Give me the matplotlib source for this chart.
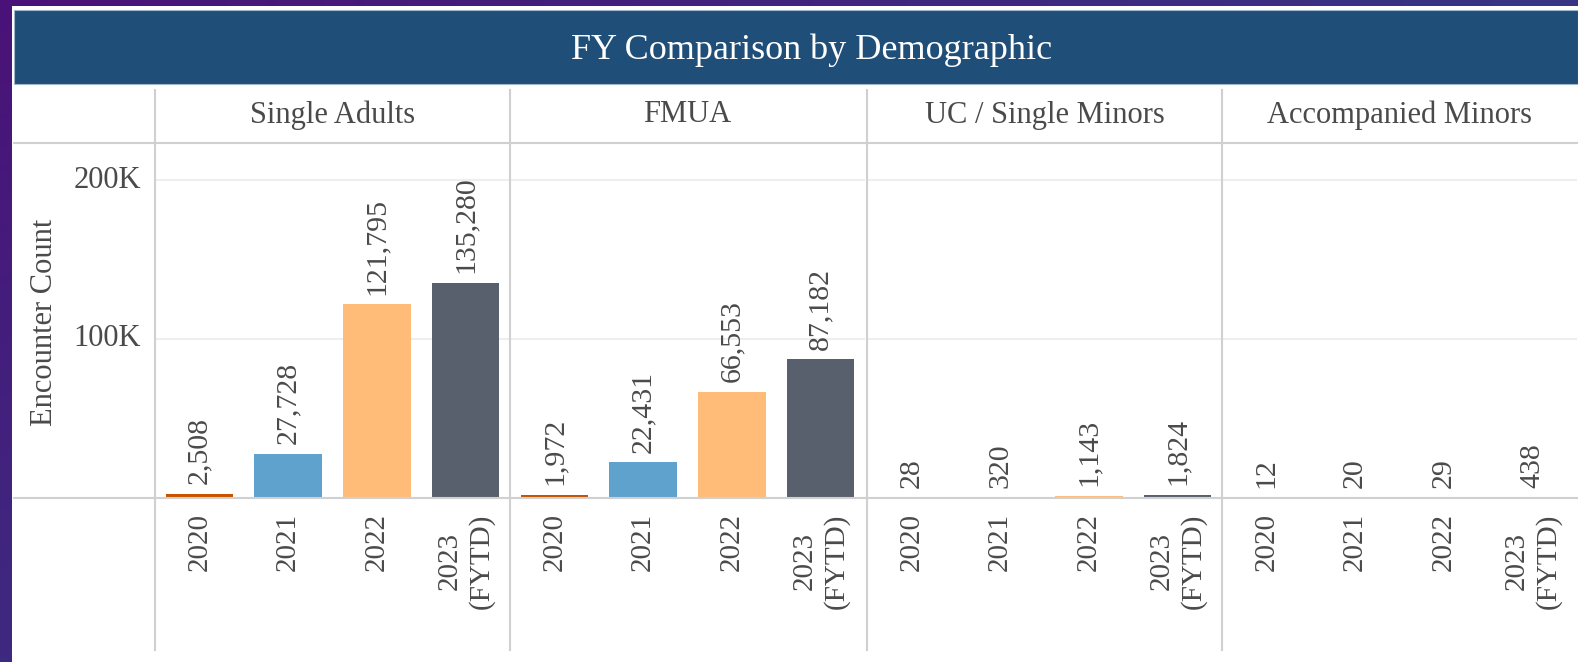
import numpy as np
import matplotlib
matplotlib.use("Agg")
import matplotlib.pyplot as plt
from matplotlib.lines import Line2D
from matplotlib.patches import Rectangle
from matplotlib.transforms import offset_copy

# ---------------- data ----------------
groups = ["Single Adults", "FMUA", "UC / Single Minors", "Accompanied Minors"]
years = ["2020", "2021", "2022", "2023\n(FYTD)"]
single_adults = [2508, 27728, 121795, 135280]
fmua = [1972, 22431, 66553, 87182]
uc_single_minors = [28, 320, 1143, 1824]
accompanied_minors = [12, 20, 29, 438]
series = [single_adults, fmua, uc_single_minors, accompanied_minors]
year_colors = ["#c85200", "#5fa2ce", "#ffbc79", "#57606c"]
yticks = [0, 100000, 200000]
ytick_labels = ["", "100K", "200K"]
title = "FY Comparison by Demographic"
ylabel = "Encounter Count"

W, H = 1578, 662
plt.rcParams['font.family'] = ['Liberation Serif', 'DejaVu Serif']
fig = plt.figure(figsize=(W / 100, H / 100), dpi=100)
fig.patch.set_facecolor("#4a1478")

def fx(x):
    return x / W

def fy(y):
    return 1 - y / H

# background gradient (purple -> blue)
bg = fig.add_axes([0, 0, 1, 1], zorder=-10)
gx = np.linspace(0, 1, 200)
gy = np.linspace(0, 1, 100)
GX, GY = np.meshgrid(gx, gy)
t = np.clip(0.6 * GX + 0.4 * GY, 0, 1)
c0 = np.array([0x4a, 0x12, 0x78]) / 255
c1 = np.array([0x2c, 0x4c, 0x8c]) / 255
img = c0[None, None, :] * (1 - t[..., None]) + c1[None, None, :] * t[..., None]
bg.imshow(img, extent=[0, 1, 0, 1], aspect="auto", origin="upper")
bg.set_xlim(0, 1)
bg.set_ylim(0, 1)
bg.axis("off")

# white chart area
fig.patches.append(Rectangle((fx(12), 0), 1 - fx(12), fy(6), transform=fig.transFigure,
                             facecolor="white", edgecolor="none", zorder=-5))
# title bar
fig.patches.append(Rectangle((fx(14), fy(84)), 1 - fx(14), fy(10) - fy(84), transform=fig.transFigure,
                             facecolor="#1f4e79", edgecolor="#9fb6cc", linewidth=0.8, zorder=-4))
fig.text(fx(812), fy(50), title, color="white", fontsize=26, ha="center", va="center")

text_color = "#4a4a4a"
line_color = "#d0d0d0"

# structure lines
fig.add_artist(Line2D([fx(14), 1], [fy(143), fy(143)], color=line_color, lw=1.5, transform=fig.transFigure))
fig.add_artist(Line2D([fx(14), 1], [fy(498), fy(498)], color=line_color, lw=1.5, transform=fig.transFigure, zorder=5))
for xv in [155, 510, 867, 1222]:
    fig.add_artist(Line2D([fx(xv), fx(xv)], [fy(650), fy(90)], color=line_color, lw=1.5, transform=fig.transFigure))

ymax = (498 - 143) / 159 * 100000
panel_lefts = [155, 510, 867, 1222]
pw = 355
for i, (g, vals) in enumerate(zip(groups, series)):
    ax = fig.add_axes([fx(panel_lefts[i]), fy(498), fx(pw), fy(143) - fy(498)])
    ax.set_facecolor("none")
    x = np.arange(len(years))
    ax.bar(x, vals, width=0.76, color=year_colors, zorder=3)
    ax.set_xlim(-0.5, 3.5)
    ax.set_ylim(0, ymax)
    for s in ax.spines.values():
        s.set_visible(False)
    ax.set_yticks(yticks)
    ax.yaxis.grid(True, color="#eeeeee", lw=1.5, zorder=0)
    ax.tick_params(axis="y", length=0, labelleft=False)
    ax.set_xticks(x)
    ax.set_xticklabels(years, rotation=90, fontsize=21, color=text_color, linespacing=1.25)
    ax.tick_params(axis="x", length=0, pad=11)
    for xi, v in zip(x, vals):
        ax.annotate(f"{v:,}", (xi, v), xytext=(0, 7), textcoords="offset points",
                    rotation=90, ha="center", va="bottom", fontsize=21.5, color=text_color)
    fig.text(fx(panel_lefts[i] + pw / 2), fy(115), g, fontsize=22, color=text_color,
             ha="center", va="center")
    if i == 0:
        tr = offset_copy(ax.get_yaxis_transform(), fig=fig, x=-14, y=0, units="dots")
        for yv, lab in zip(yticks, ytick_labels):
            if lab:
                ax.text(0, yv, lab, transform=tr, ha="right", va="center",
                        fontsize=22, color=text_color)

fig.text(fx(45), fy(322), ylabel, rotation=90, fontsize=22, color=text_color, ha="center", va="center")

fig.savefig("out.png", dpi=100)
